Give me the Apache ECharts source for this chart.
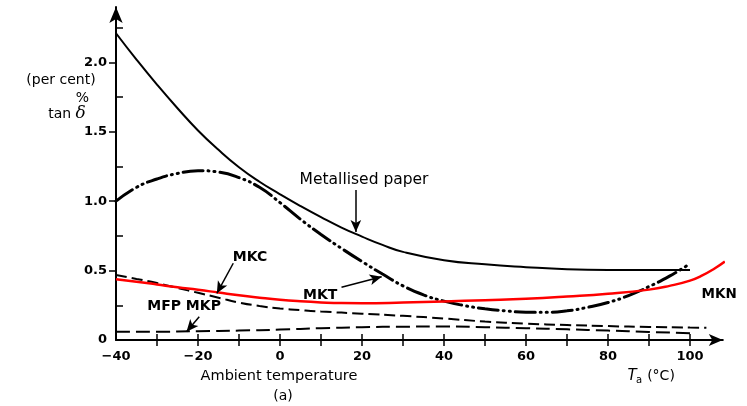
<!DOCTYPE html>
<html>
<head>
<meta charset="utf-8">
<script src="https://cdn.jsdelivr.net/npm/echarts@6/dist/echarts.min.js"></script>
<style>
  html, body { margin: 0; padding: 0; background: #fff; }
  #chart { width: 747px; height: 406px; }
</style>
</head>
<body>
<div id="chart"></div>
<script>
// Loss factor tan δ (per cent) of capacitor dielectrics against ambient temperature (°C)

const metallisedT = [-40, -35, -30, -25, -20, -15, -10, -5, 0, 5, 10, 15, 20, 25, 30, 40, 50, 60, 70, 80, 90, 100];
const metallisedV = [2.21, 2.02, 1.84, 1.67, 1.51, 1.37, 1.245, 1.14, 1.05, 0.965, 0.885, 0.81, 0.745, 0.685, 0.635, 0.575, 0.545, 0.525, 0.51, 0.505, 0.505, 0.505];

const mktT = [-40, -35, -30, -25, -20, -15, -10, -5, 0, 5, 10, 15, 20, 25, 30, 35, 40, 45, 50, 55, 60, 65, 70, 75, 80, 85, 90, 95, 100];
const mktV = [1.0, 1.1, 1.16, 1.2, 1.22, 1.21, 1.17, 1.1, 0.99, 0.87, 0.76, 0.66, 0.565, 0.475, 0.39, 0.325, 0.28, 0.248, 0.225, 0.21, 0.2, 0.2, 0.21, 0.235, 0.27, 0.32, 0.385, 0.46, 0.55];

const mknT = [-40, -35, -30, -25, -20, -15, -10, -5, 0, 5, 10, 15, 20, 30, 40, 50, 60, 70, 80, 90, 95, 100, 103, 106, 108.5];
const mknV = [0.437, 0.42, 0.40, 0.38, 0.362, 0.342, 0.322, 0.305, 0.29, 0.279, 0.271, 0.266, 0.265, 0.27, 0.278, 0.287, 0.297, 0.313, 0.333, 0.363, 0.39, 0.428, 0.465, 0.515, 0.565];

const mkcT = [-40, -35, -30, -25, -20, -15, -10, -5, 0, 5, 10, 20, 30, 40, 50, 60, 70, 80, 90, 100, 104];
const mkcV = [0.468, 0.44, 0.41, 0.375, 0.34, 0.305, 0.27, 0.245, 0.227, 0.215, 0.205, 0.19, 0.174, 0.155, 0.133, 0.118, 0.108, 0.1, 0.094, 0.09, 0.088];

const mfpT = [-40, -30, -20, -10, 0, 10, 20, 30, 40, 50, 60, 70, 80, 90, 100];
const mfpV = [0.06, 0.06, 0.063, 0.068, 0.075, 0.085, 0.092, 0.096, 0.097, 0.092, 0.085, 0.077, 0.068, 0.058, 0.049];

// axis ticks and labels
const xTickValues = [-30, -20, -10, 0, 10, 20, 30, 40, 50, 60, 70, 80, 90, 100];
const xLabelValues = [-40, -20, 0, 20, 40, 60, 80, 100];
const yMajorTicks = [0.5, 1.0, 1.5, 2.0];
const yMinorTicks = [0.25, 0.75, 1.25, 1.75, 2.25];
const yLabelValues = [0, 0.5, 1.0, 1.5, 2.0];

// curve names and their pointer arrows, in data units
const curveLabels = [
  { text: 'Metallised paper', at: [20.5, 1.153], bold: false, size: 15.5 },
  { text: 'MKC', at: [-7.3, 0.598], bold: true, size: 14 },
  { text: 'MKT', at: [9.8, 0.324], bold: true, size: 14 },
  { text: 'MFP MKP', at: [-23.4, 0.24], bold: true, size: 14 },
  { text: 'MKN', at: [107.1, 0.331], bold: true, size: 13.5 }
];
const pointerArrows = [
  [[18.5, 1.081], [18.5, 0.778]],
  [[15.0, 0.38], [24.8, 0.456]],
  [[-11.4, 0.553], [-15.4, 0.336]],
  [[-19.7, 0.168], [-22.8, 0.06]]
];

const FONT = "'DejaVu Sans', sans-serif";
const pairs = (xs, ys) => xs.map((x, i) => [x, ys[i]]);
const fmtX = v => (v < 0 ? '\u2212' + Math.abs(v) : String(v));
const fmtY = v => (v === 0 ? '0' : v.toFixed(1));

const chart = echarts.init(document.getElementById('chart'), null, { renderer: 'canvas' });

const axisText = { fontFamily: FONT, fontSize: 13, fontWeight: 'bold', color: '#000' };

const lineSeries = (name, xs, ys, lineStyle) => ({
  name, type: 'line', smooth: 0.5, symbol: 'none', clip: false,
  data: pairs(xs, ys), lineStyle
});

const metallised = lineSeries('Metallised paper', metallisedT, metallisedV, { color: '#000', width: 2 });
metallised.markLine = {
  silent: true, animation: false,
  symbol: ['none', 'arrow'], symbolSize: [8, 12],
  lineStyle: { type: 'solid', color: '#000', width: 1.5 },
  label: { show: false },
  emphasis: { disabled: true },
  data: pointerArrows.map(a => [{ coord: a[0] }, { coord: a[1] }])
};

const option = {
  animation: false,
  backgroundColor: '#fff',
  grid: { left: 116, right: 24.2, top: 6.9, bottom: 66, containLabel: false },
  xAxis: [
    {
      type: 'value', min: -40, max: 108, position: 'bottom',
      axisLine: { show: true, onZero: false, symbol: ['none', 'arrow'], symbolSize: [9, 14],
        lineStyle: { color: '#000', width: 2 } },
      axisTick: { show: true, customValues: xTickValues, length: 6, inside: false,
        lineStyle: { color: '#000', width: 1.5 } },
      axisLabel: Object.assign({ customValues: xLabelValues, formatter: fmtX, margin: 10 }, axisText),
      splitLine: { show: false }
    },
    {
      type: 'value', min: -40, max: 108, position: 'bottom',
      axisLine: { show: false, onZero: false },
      axisTick: { show: true, customValues: xTickValues, length: 6, inside: true,
        lineStyle: { color: '#000', width: 1.5 } },
      axisLabel: { show: false },
      splitLine: { show: false }
    }
  ],
  yAxis: [
    {
      type: 'value', min: 0, max: 2.4, position: 'left',
      axisLine: { show: true, onZero: false, symbol: ['none', 'arrow'], symbolSize: [10, 16],
        lineStyle: { color: '#000', width: 2 } },
      axisTick: { show: true, customValues: yMajorTicks, length: 7, inside: false,
        lineStyle: { color: '#000', width: 1.5 } },
      axisLabel: Object.assign({ customValues: yLabelValues, formatter: fmtY, margin: 9 }, axisText),
      splitLine: { show: false }
    },
    {
      type: 'value', min: 0, max: 2.4, position: 'left',
      axisLine: { show: false, onZero: false },
      axisTick: { show: true, customValues: yMinorTicks, length: 7, inside: true,
        lineStyle: { color: '#000', width: 1.5 } },
      axisLabel: { show: false },
      splitLine: { show: false }
    }
  ],
  series: [
    lineSeries('MFP MKP', mfpT, mfpV, { color: '#000', width: 2, type: [14, 6] }),
    lineSeries('MKC', mkcT, mkcV, { color: '#000', width: 2, type: [11, 5] }),
    lineSeries('MKT', mktT, mktV, { color: '#000', width: 3, type: [20, 5, 1, 5, 1, 5], cap: 'round' }),
    metallised,
    lineSeries('MKN', mknT, mknV, { color: '#ff0000', width: 2.5 })
  ]
};

chart.setOption(option);

// Curve names placed at data positions, plus axis titles
const graphics = curveLabels.map(l => {
  const p = chart.convertToPixel({ xAxisIndex: 0, yAxisIndex: 0 }, l.at);
  return {
    type: 'text', x: p[0], y: p[1], silent: true,
    style: { text: l.text, fill: '#000', font: (l.bold ? 'bold ' : '') + l.size + 'px ' + FONT,
      align: 'center', verticalAlign: 'middle' }
  };
});

const plain = (text, x, y, size, extra) => ({
  type: 'text', x, y, silent: true,
  style: Object.assign({ text, fill: '#000', font: size + 'px ' + FONT, align: 'center', verticalAlign: 'middle' }, extra || {})
});

graphics.push(
  plain('(per cent)', 61, 80, 14),
  plain('%', 82.5, 98, 14),
  {
    type: 'text', x: 67, y: 114, silent: true,
    style: {
      text: '{a|tan }{b|δ}', align: 'center', verticalAlign: 'middle',
      rich: {
        a: { fontFamily: FONT, fontSize: 14, fill: '#000' },
        b: { fontFamily: "'DejaVu Serif', serif", fontStyle: 'italic', fontSize: 17, fill: '#000' }
      }
    }
  },
  plain('Ambient temperature', 279, 376, 14.5),
  plain('T', 632, 376, 15, { font: 'italic 15px ' + FONT }),
  plain('a', 639, 380, 10),
  plain('(°C)', 661, 376, 14),
  plain('(a)', 283, 396, 14)
);

chart.setOption({ graphic: graphics });
</script>
</body>
</html>
